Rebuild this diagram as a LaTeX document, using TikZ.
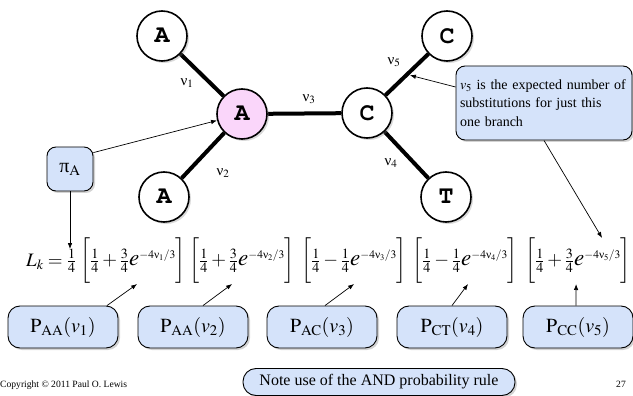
\documentclass[tikz,border=0pt]{standalone}
\usepackage{amsmath}
\usepackage{mathptmx}
\usepackage[T1]{fontenc}
\usepackage{fontspec}
\setmainfont{Liberation Serif}
\usetikzlibrary{arrows.meta,shadows,calc,backgrounds}
\definecolor{lightblue}{RGB}{213,227,250}
\definecolor{lightpink}{RGB}{250,214,250}
% upright greek from the text font
\newcommand\gnu{\text{ν}}
\newcommand\gpi{\text{π}}
% exponential term of a branch
\newcommand\expo[1]{\text{\fontsize{23}{23}\selectfont$e$}^{\text{\fontsize{11.5}{12}\selectfont$-4\gnu_{#1}/3$}}}
\tikzset{
  base/.style={circle,draw,line width=1.6pt,fill=white,minimum size=50pt,inner sep=0pt,
    font=\fontencoding{T1}\fontfamily{pcr}\fontseries{b}\fontsize{25}{25}\selectfont,
    drop shadow={shadow xshift=2pt,shadow yshift=-2pt,opacity=.3}},
  branch/.style={line width=4pt},
  edgelbl/.style={font=\fontsize{15}{15}\selectfont,inner sep=1pt},
  tip/.style={-{Latex[length=6pt,width=4.5pt]},line width=.7pt},
  note/.style={draw,line width=.9pt,fill=lightblue,rounded corners=9pt,
    drop shadow={shadow xshift=2pt,shadow yshift=-2pt,opacity=.35}},
  pbox/.style={note,rounded corners=12pt,minimum width=110pt,minimum height=42pt,
    font=\fontsize{20}{24}\selectfont},
  factor/.style={font=\fontsize{19}{24}\selectfont,inner sep=0pt,anchor=west}
}
\begin{document}
\begin{tikzpicture}[x=1pt,y=-1pt]
  \useasboundingbox (0,0) rectangle (633,396);
  % tree
  \node[base] (a1) at (162,36) {A};
  \node[base,fill=lightpink] (a0) at (242,114) {A};
  \node[base] (a2) at (164,197) {A};
  \node[base] (c0) at (367,113) {C};
  \node[base] (c1) at (447,36) {C};
  \node[base] (t1) at (446,197) {T};
  \begin{scope}[on background layer]
    \draw[branch] (a1) -- (a0);
    \draw[branch] (a2) -- (a0);
    \draw[branch] (a0) -- (c0);
    \draw[branch] (c0) -- (c1);
    \draw[branch] (c0) -- (t1);
  \end{scope}
  \node[edgelbl] (nu1) at (187,83) {$\gnu_1$};
  \node[edgelbl] (nu2) at (223,173) {$\gnu_2$};
  \node[edgelbl] (nu3) at (309,99) {$\gnu_3$};
  \node[edgelbl] (nu5) at (394,62) {$\gnu_5$};
  \node[edgelbl] (nu4) at (391,163) {$\gnu_4$};

  % likelihood
  \node[factor] (lhs) at (26,261) {$L_k = \tfrac14$};
  \node[factor] (f1) at (80,261) {$\biggl[\tfrac14+\tfrac34\expo1\biggr]$};
  \node[factor] (f2) at (189,261) {$\biggl[\tfrac14+\tfrac34\expo2\biggr]$};
  \node[factor] (f3) at (301,261) {$\biggl[\tfrac14-\tfrac14\expo3\biggr]$};
  \node[factor] (f4) at (412,261) {$\biggl[\tfrac14-\tfrac14\expo4\biggr]$};
  \node[factor] (f5) at (525,261) {$\biggl[\tfrac14+\tfrac34\expo5\biggr]$};

  % transition probabilities
  \node[pbox] (p1) at (63,327) {$\mathrm{P}_{\mathrm{AA}}(v_1)$};
  \node[pbox] (p2) at (193,327) {$\mathrm{P}_{\mathrm{AA}}(v_2)$};
  \node[pbox] (p3) at (322,327) {$\mathrm{P}_{\mathrm{AC}}(v_3)$};
  \node[pbox] (p4) at (452,327) {$\mathrm{P}_{\mathrm{CT}}(v_4)$};
  \node[pbox] (p5) at (578,327) {$\mathrm{P}_{\mathrm{CC}}(v_5)$};

  \node[note,minimum width=46pt,minimum height=44pt,font=\fontsize{20}{24}\selectfont] (pia) at (70,169) {$\gpi_{\mathrm{A}}$};
  \node[note,text width=168pt,align=left,minimum height=74pt,inner sep=4pt,
    font=\fontsize{14}{18.5}\selectfont] (callout) at (544,103)
    {$v_5$ is the expected number of\\substitutions for just this\\one branch};
  \node[note,rounded corners=13pt,minimum width=272pt,minimum height=27pt,
    font=\fontsize{16}{18}\selectfont] (rule) at (379,382) {Note use of the AND probability rule};
  \node[font=\fontsize{9.6}{10}\selectfont,anchor=west,inner sep=0pt] (copy) at (0,385) {Copyright \textcopyright{} 2011 Paul O. Lewis};
  \node[font=\fontsize{9.6}{10}\selectfont] (page) at (621,384) {27};

  \draw[tip] (pia.35) -- (a0);
  \draw[tip] (pia.south) -- (pia.south |- lhs.north);
  \draw[tip,shorten >=3pt] ([yshift=16pt]callout.west) -- ($(c0)!.5!(c1)$);
  \draw[tip] (callout.south) -- ([xshift=24pt]f5.north);
  \draw[tip] ([xshift=44pt]p1.north) -- ([xshift=4pt]f1.south);
  \draw[tip] ([xshift=10pt]p2.north) -- ([xshift=-10pt]f2.south);
  \draw[tip] ([xshift=3pt]p3.north) -- (f3.south);
  \draw[tip] (p4.north) -- ([xshift=3pt]f4.south);
  \draw[tip] ([xshift=-2pt]p5.north) -- ([xshift=-2pt]f5.south);
\end{tikzpicture}
\end{document}
